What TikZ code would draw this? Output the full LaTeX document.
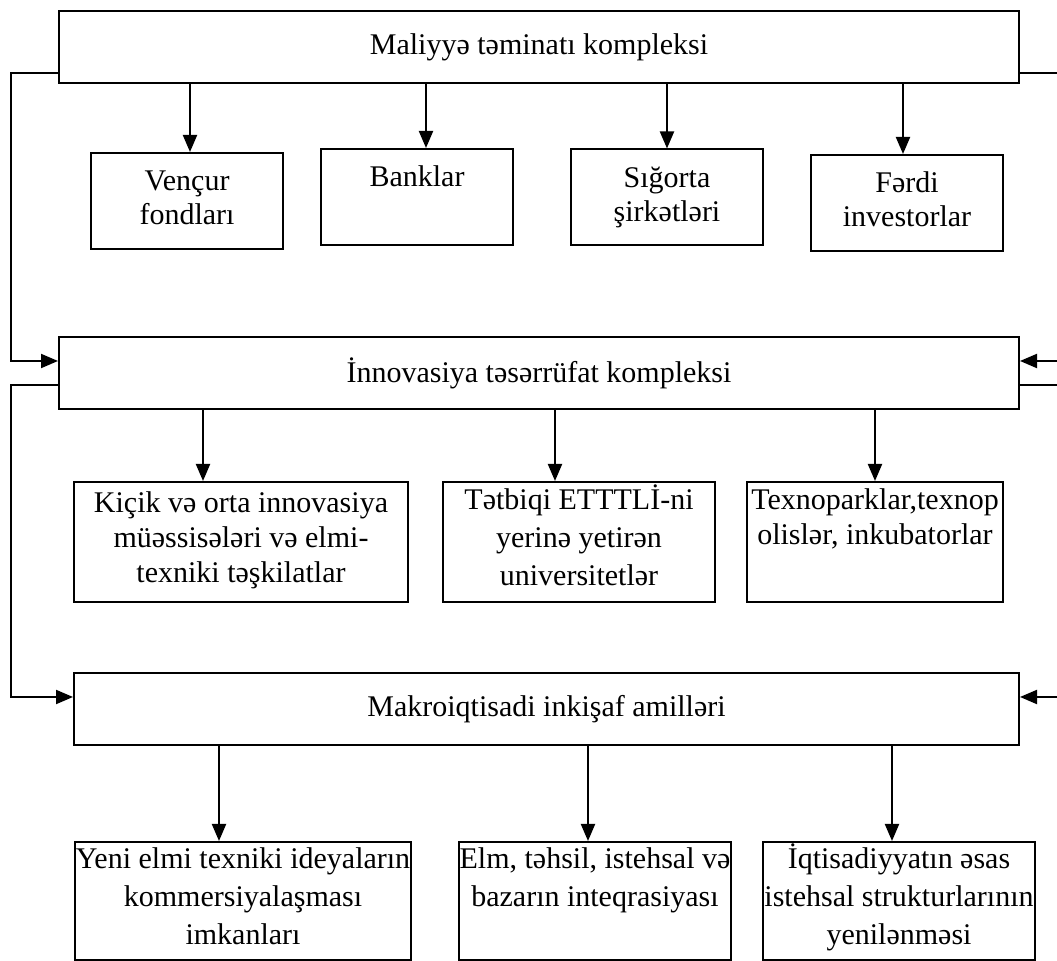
\documentclass[tikz,border=0pt]{standalone}
\usepackage{fontspec}
\setmainfont{Liberation Serif}
\usetikzlibrary{arrows.meta,calc}
\newcommand{\cellbox}[4]{\parbox[c][#2][t]{#1}{\vspace*{#3}\makebox[#1]{\begin{tabular}[t]{@{}c@{}}#4\end{tabular}}}}

\begin{document}
\begin{tikzpicture}[x=0.5pt, y=-0.5pt, line width=1pt,
  every node/.style={font=\fontsize{15}{17.5}\selectfont},
  cell/.style={draw, inner sep=0pt},
  loose/.style={cell, font=\fontsize{15}{19}\selectfont},
  wide/.style={cell, minimum height=36pt},
  arr/.style={-{Triangle[length=8.5pt,width=7pt]}}]
\useasboundingbox (0,0) rectangle (1057,961);
\coordinate (lft) at (11,0);
\coordinate (rgt) at (1057,0);
% three complexes
\node[wide, minimum width=480pt] (top) at (539,47) {Maliyyə təminatı kompleksi};
\node[wide, minimum width=480pt] (mid) at (539,373) {İnnovasiya təsərrüfat kompleksi};
\node[wide, minimum width=472.5pt] (bot) at (546.5,709) {Makroiqtisadi inkişaf amilləri};
% first row
\node[cell, font=\fontsize{15}{17}\selectfont] (r1a) at (187,201) {\cellbox{96pt}{48pt}{7pt}{Vençur\\fondları}};
\node[cell, font=\fontsize{15}{17}\selectfont] (r1b) at (417,197) {\cellbox{96pt}{48pt}{7pt}{Banklar}};
\node[cell, font=\fontsize{15}{17}\selectfont] (r1c) at (667,197.5) {\cellbox{96pt}{48pt}{7pt}{Sığorta\\şirkətləri}};
\node[cell, font=\fontsize{15}{17}\selectfont] (r1d) at (907,203) {\cellbox{96pt}{48pt}{7pt}{Fərdi\\investorlar}};
% second row
\node[cell] (r2a) at (241,542) {\cellbox{167pt}{60pt}{3.2pt}{Kiçik və orta innovasiya\\müəssisələri və elmi-\\texniki təşkilatlar}};
\node[loose] (r2b) at (579,542) {\cellbox{136pt}{60pt}{0.7pt}{Tətbiqi ETTTLİ-ni\\yerinə yetirən\\universitetlər}};
\node[cell] (r2c) at (875,542) {\cellbox{128pt}{60pt}{1.7pt}{Texnoparklar,texnop\\olislər, inkubatorlar}};
% third row
\node[loose] (r3a) at (243,901) {\cellbox{168pt}{59pt}{0.2pt}{Yeni elmi texniki ideyaların\\kommersiyalaşması\\imkanları}};
\node[loose] (r3b) at (595,901) {\cellbox{136pt}{59pt}{0.2pt}{Elm, təhsil, istehsal və\\bazarın inteqrasiyası}};
\node[loose] (r3c) at (899,901) {\cellbox{136pt}{59pt}{0.2pt}{İqtisadiyyatın əsas\\istehsal strukturlarının\\yenilənməsi}};
% arrows down
\foreach \b/\dx in {r1a/3, r1b/9, r1c/0, r1d/-4}{
  \path ($(\b.north)+(\dx,0)$) coordinate (h);
  \draw[arr] (top.south -| h) -- (h);
}
\foreach \b/\dx in {r2a/-38, r2b/-24, r2c/0}{
  \path ($(\b.north)+(\dx,0)$) coordinate (h);
  \draw[arr] (mid.south -| h) -- (h);
}
\foreach \b/\dx in {r3a/-24, r3b/-7, r3c/-7}{
  \path ($(\b.north)+(\dx,0)$) coordinate (h);
  \draw[arr] (bot.south -| h) -- (h);
}
% side links
\coordinate (topL) at ([yshift=-13pt]top.west);
\coordinate (topR) at ([yshift=-13pt]top.east);
\coordinate (midLin) at ([yshift=6pt]mid.west);
\coordinate (midLout) at ([yshift=-6pt]mid.west);
\coordinate (midRin) at ([yshift=6pt]mid.east);
\coordinate (midRout) at ([yshift=-6pt]mid.east);
\coordinate (botLin) at ([yshift=6pt]bot.west);
\coordinate (botRin) at ([yshift=6pt]bot.east);
\draw[arr] (topL) -- (topL -| lft) |- (midLin);
\draw[arr] (midLout) -- (midLout -| lft) |- (botLin);
\draw (topR) -- (topR -| rgt);
\draw[arr] (midRin -| rgt) -- (midRin);
\draw (midRout) -- (midRout -| rgt);
\draw[arr] (botRin -| rgt) -- (botRin);
\end{tikzpicture}
\end{document}
